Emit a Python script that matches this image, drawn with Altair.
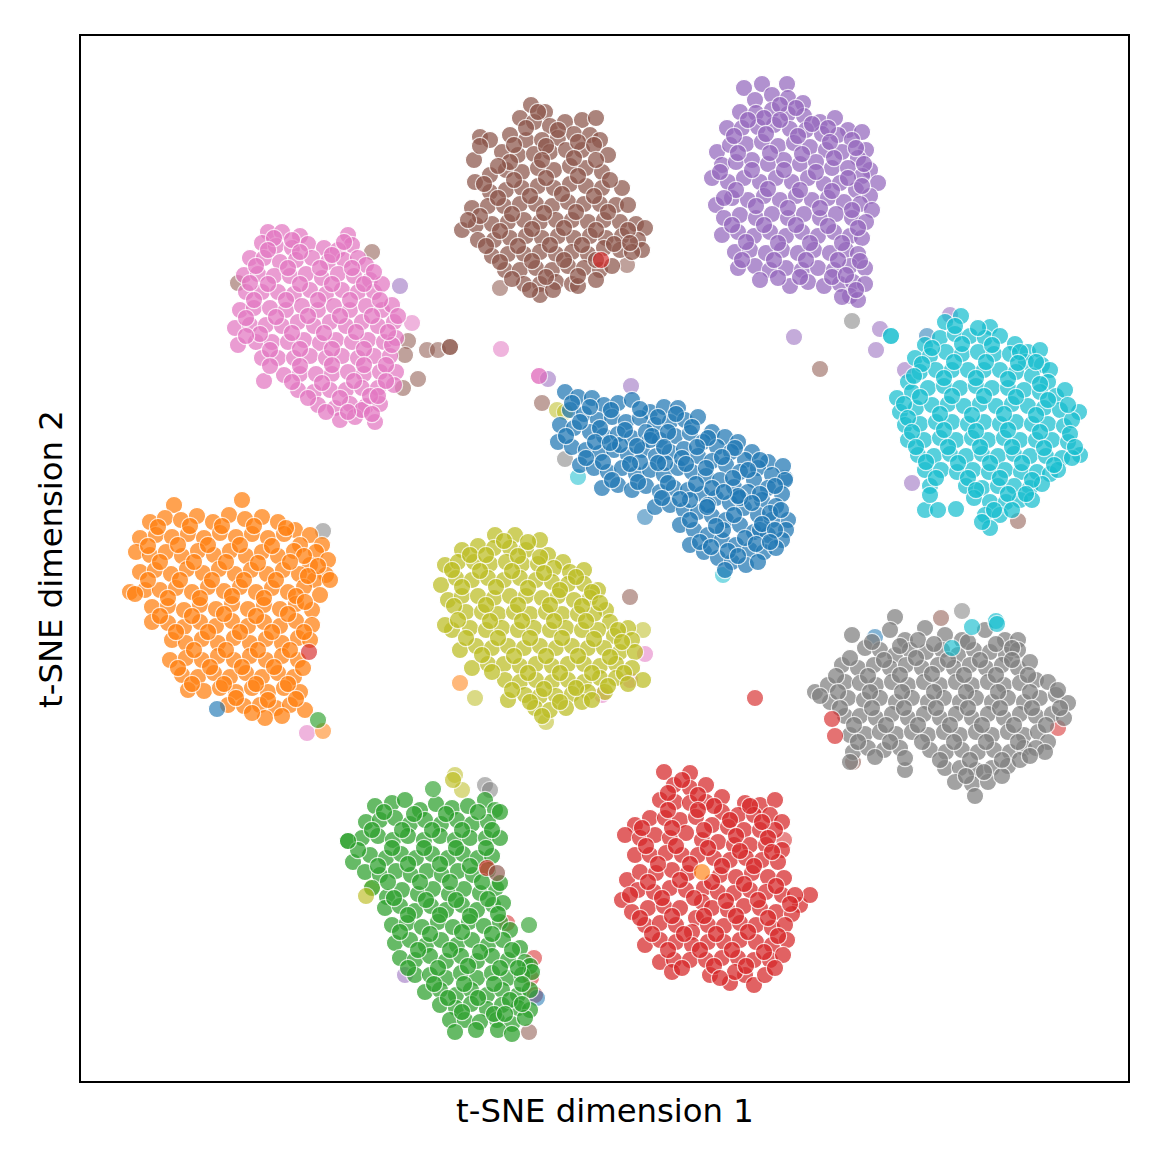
import altair as alt
import pandas as pd

blue = [(565,392),(578,397),(592,398),(604,405),(618,403),(632,400),(650,412),(664,407),(678,408),(570,410),(584,414),(598,420),(612,417),(626,422),(640,418),(655,425),(670,422),(685,420),(698,417),(712,432),(725,437),(738,442),(752,452),(768,462),(783,466),
(560,425),(574,428),(590,432),(604,436),(618,434),(632,438),(646,432),(660,440),(675,436),(690,433),(703,442),(717,447),(731,452),(745,460),(758,468),(772,475),(785,480),
(558,442),(572,447),(586,450),(600,453),(614,450),(628,455),(642,450),(656,456),(670,452),(684,449),(698,456),(712,461),(726,465),(740,472),(754,480),(768,488),(782,494),
(580,465),(594,468),(608,472),(622,468),(636,474),(650,470),(664,475),(678,468),(692,472),(706,476),(720,480),(734,487),(748,492),(762,500),(776,506),(788,520),
(602,488),(618,485),(632,490),(646,486),(660,492),(674,488),(688,490),(702,494),(716,498),(730,503),(744,508),(758,515),(772,520),(786,530),
(655,507),(670,505),(684,510),(698,512),(712,516),(726,520),(740,525),(754,532),(768,535),(782,540),
(680,525),(694,530),(708,535),(722,540),(736,545),(750,550),(764,552),(776,548),
(690,545),(704,552),(718,558),(732,562),(746,565),(758,562),(725,570),(665,463),(708,505),(740,498),(760,530),(640,462),(620,445),(690,500),(723,530),(650,440)]
blue_extra = [(572,403),(590,407),(611,410),(640,409),(658,417),(676,414),(692,427),(708,438),(735,448),(760,460),(580,422),(600,428),(625,430),(652,436),(668,432),(697,447),(722,457),(748,470),(775,486),
(566,436),(595,442),(610,443),(637,446),(664,447),(682,458),(706,468),(733,478),(760,494),(586,458),(603,462),(630,464),(658,463),(686,464),(712,488),(738,496),(770,513),(612,480),(638,482),(668,483),(696,484),(724,492),(752,503),(781,510),
(662,498),(680,499),(707,507),(734,515),(762,524),(690,520),(716,526),(745,538),(775,530),(700,542),(728,551),(756,544),(770,542),(711,547),(738,556)]

orange = [(174,505),(242,500),(150,522),(165,518),(181,520),(197,516),(213,522),(229,515),(245,519),(262,517),(278,522),(295,530),(310,535),(322,545),
(140,538),(156,535),(172,537),(188,534),(204,538),(220,533),(236,537),(252,534),(268,538),(284,534),(300,545),(316,552),(328,560),
(136,552),(150,555),(166,552),(182,556),(198,551),(214,555),(230,551),(246,556),(262,552),(278,556),(294,551),(310,565),(326,575),
(130,592),(140,572),(155,570),(171,574),(187,569),(203,573),(219,569),(235,574),(251,570),(267,574),(283,570),(299,574),(315,580),(330,580),
(145,590),(160,590),(176,588),(192,592),(208,587),(224,591),(240,587),(256,592),(272,588),(288,592),(304,587),(320,595),
(135,594),(152,607),(168,606),(184,610),(200,605),(216,609),(232,604),(248,609),(264,605),(280,609),(296,604),(312,610),
(152,622),(168,623),(184,627),(200,622),(216,626),(232,621),(248,626),(264,622),(280,626),(296,621),(312,625),
(172,640),(186,643),(202,639),(218,643),(234,638),(250,643),(266,639),(282,643),(298,638),(310,640),
(170,660),(186,658),(202,660),(218,656),(234,660),(250,656),(266,660),(282,656),(298,660),
(182,675),(198,677),(214,673),(230,677),(246,673),(262,677),(278,673),(294,677),(303,668),
(188,690),(204,691),(220,688),(236,692),(252,688),(268,692),(284,688),(300,692),
(228,705),(244,706),(260,705),(276,708),(290,705),(305,710),(265,718),(282,716)]
orange_extra = [(158,527),(190,526),(222,526),(254,526),(286,528),(148,546),(178,545),(208,545),(240,545),(272,546),(304,556),(160,562),(194,562),(226,562),(258,563),(290,562),(318,566),
(148,580),(180,580),(212,580),(244,580),(276,580),(308,576),(168,598),(200,598),(232,596),(264,598),(296,596),(160,616),(192,616),(224,614),(256,616),(288,614),(305,602),
(176,632),(208,632),(240,632),(272,632),(304,632),(194,650),(226,650),(258,650),(290,650),(178,668),(210,667),(242,667),(274,667),(192,684),(224,684),(256,684),(288,684),(236,698),(268,700),(296,699),(252,713)]

green = [(375,806),(392,803),(405,800),(420,810),(436,804),(452,808),(468,806),(485,800),(495,810),
(366,822),(380,820),(395,818),(410,824),(425,820),(441,824),(457,820),(472,824),(488,822),(500,812),
(348,841),(362,838),(378,836),(393,840),(408,836),(424,840),(440,836),(455,840),(470,838),(486,838),(500,838),
(353,862),(370,855),(386,858),(401,854),(416,858),(432,854),(448,858),(463,854),(478,858),(492,856),
(365,872),(380,875),(396,871),(411,875),(427,871),(442,875),(458,871),(473,875),(488,870),
(387,897),(372,888),(402,890),(418,894),(433,889),(449,894),(464,889),(480,893),(496,888),(500,883),
(385,908),(400,906),(415,911),(431,906),(446,910),(462,905),(477,910),(493,905),(503,903),
(392,925),(407,923),(422,927),(438,922),(453,927),(469,922),(484,926),(500,922),(510,930),
(395,943),(410,940),(426,945),(441,940),(457,945),(472,940),(488,945),(503,940),(520,948),
(400,958),(415,960),(430,956),(446,961),(461,956),(477,961),(492,956),(508,960),(525,962),(530,966),
(415,975),(430,975),(446,978),(461,973),(477,978),(492,973),(508,978),(522,975),(532,972),
(425,992),(440,990),(456,995),(471,990),(487,995),(502,990),(518,995),(530,990),
(440,1005),(456,1008),(471,1004),(487,1009),(502,1005),(518,1008),(530,1010),
(450,1020),(465,1020),(480,1022),(497,1020),(512,1024),(525,1018),(455,1032),(498,1030),(512,1034)]
green_extra = [(384,812),(414,814),(446,814),(478,812),(372,830),(402,830),(432,830),(462,830),(492,830),(358,850),(392,848),(424,848),(456,848),(486,848),(378,866),(408,864),(440,864),(470,866),
(388,882),(420,882),(450,882),(482,882),(394,898),(426,900),(456,900),(488,899),(408,915),(440,915),(470,916),(498,914),(400,932),(430,934),(462,932),(492,934),(418,950),(450,950),(480,952),(512,950),
(408,968),(438,968),(468,966),(500,968),(518,968),(434,984),(464,984),(494,984),(522,984),(448,998),(478,998),(510,1000),(462,1012),(494,1014),(522,1004),(476,1030),(505,1014)]

red = [(664,772),(690,773),(674,785),(690,788),(706,785),(722,797),(745,803),(760,805),(775,800),
(660,800),(675,802),(690,803),(706,802),(722,812),(738,815),(754,815),(770,815),(782,822),
(635,825),(650,818),(665,818),(680,820),(696,817),(712,825),(728,827),(744,830),(760,830),(775,830),
(625,835),(640,838),(655,835),(670,838),(686,833),(702,840),(718,842),(734,845),(750,845),(766,845),(782,850),
(635,855),(650,855),(666,853),(682,855),(698,855),(714,858),(730,860),(746,858),(762,860),(778,862),
(627,880),(640,872),(656,873),(672,870),(688,873),(704,888),(720,875),(736,877),(752,873),(768,877),(784,878),
(622,900),(638,890),(654,892),(670,888),(686,890),(702,902),(718,892),(734,893),(750,890),(766,892),(782,895),(800,905),(810,895),(795,895),
(632,912),(648,908),(664,906),(680,908),(696,918),(712,908),(728,910),(744,906),(760,908),(776,912),(792,914),
(645,925),(660,923),(676,925),(692,932),(708,925),(724,926),(740,923),(756,925),(772,928),(785,925),
(645,945),(660,940),(676,942),(692,945),(708,942),(724,942),(740,940),(756,942),(772,945),(787,940),
(660,962),(674,960),(690,960),(706,960),(722,958),(738,958),(754,960),(770,960),(783,955),
(672,972),(710,975),(730,983),(745,975),(754,985),(765,975),(775,968),(735,972)]
red_extra = [(682,780),(698,795),(668,793),(714,806),(750,806),(668,810),(698,810),(730,820),(762,822),(642,828),(672,828),(704,830),(736,836),(768,838),(646,846),(676,846),(708,848),(740,851),(772,852),
(658,864),(690,864),(722,866),(754,866),(648,882),(680,880),(712,882),(744,884),(776,886),(630,895),(662,898),(694,898),(726,901),(758,900),(790,904),(640,918),(672,916),(704,916),(736,916),(768,918),
(652,934),(684,934),(716,934),(748,932),(778,936),(668,950),(700,950),(732,950),(764,952),(682,968),(714,966),(746,966),(720,978)]

purple = [(744,88),(762,84),(787,84),(772,95),(788,98),(803,103),(755,100),
(740,112),(756,113),(772,110),(788,114),(804,116),(820,122),(835,118),(848,130),(862,132),
(727,128),(742,128),(758,127),(774,125),(790,129),(806,130),(822,134),(838,135),(852,140),(866,150),
(717,152),(730,145),(746,144),(762,142),(778,146),(794,143),(810,147),(826,150),(842,152),(858,158),(870,170),
(722,165),(736,162),(752,160),(768,164),(784,160),(800,164),(816,162),(832,168),(848,168),(862,176),(878,183),
(712,178),(728,182),(744,178),(760,182),(776,178),(792,182),(808,178),(824,184),(840,183),(856,190),(870,196),
(716,205),(732,198),(748,200),(764,196),(780,200),(796,196),(812,200),(828,198),(844,202),(860,204),(872,210),
(724,218),(740,215),(756,218),(772,214),(788,218),(804,214),(820,218),(836,214),(852,218),(866,222),
(722,235),(738,232),(754,236),(770,232),(786,236),(802,232),(818,236),(834,232),(850,236),(862,238),
(735,252),(750,250),(766,253),(782,250),(798,253),(814,250),(830,253),(846,250),(858,254),
(738,268),(755,266),(770,270),(786,268),(802,270),(818,268),(834,270),(850,266),(865,268),
(760,280),(790,286),(808,282),(824,286),(840,284),(853,282),(865,284),(850,296),(858,300),(842,297)]
purple_extra = [(780,105),(796,108),(764,118),(748,120),(780,120),(812,124),(828,128),(734,136),(766,134),(798,136),(830,142),(856,148),(738,153),(770,153),(802,154),(834,158),(864,164),
(720,172),(752,170),(784,170),(816,172),(848,178),(736,190),(768,189),(800,190),(832,191),(862,186),(724,198),(756,206),(788,208),(820,208),(852,210),(732,225),(764,225),(796,225),(828,226),(858,228),
(746,242),(778,243),(810,243),(842,243),(742,260),(774,260),(806,260),(838,260),(860,261),(778,278),(800,277),(832,277),(856,290),(846,275)]

brown = [(531,105),(545,112),(520,118),(534,122),(550,126),(565,122),(582,120),(596,118),
(480,137),(510,135),(526,140),(542,140),(558,138),(574,134),(590,135),(600,140),
(474,160),(502,152),(518,155),(534,154),(550,152),(566,150),(582,150),(608,155),
(475,182),(490,175),(506,170),(522,172),(538,168),(554,170),(570,166),(586,168),(602,172),
(490,192),(506,190),(522,188),(538,186),(554,188),(570,184),(586,186),(602,188),(622,188),
(472,208),(488,206),(504,206),(520,204),(536,204),(552,206),(568,202),(584,204),(600,204),(616,205),(628,205),
(462,230),(476,225),(492,224),(508,222),(524,220),(540,222),(556,220),(572,220),(588,222),(604,220),(620,222),(636,224),(645,228),
(478,240),(494,240),(510,238),(526,236),(542,238),(558,236),(574,238),(590,236),(606,238),(622,236),(638,240),(642,250),
(492,256),(508,254),(524,254),(540,252),(556,254),(572,252),(588,254),(604,248),(620,250),
(505,270),(520,270),(536,268),(552,270),(568,266),(584,268),(600,270),(612,266),(632,252),
(524,284),(540,284),(556,282),(572,284),(578,286),(540,295),(553,290)]
brown_extra = [(538,112),(558,130),(526,128),(490,140),(480,146),(514,145),(546,146),(578,142),(594,145),(510,162),(542,160),(574,158),(596,160),(498,166),(484,184),(514,180),(546,178),(578,176),(610,180),
(498,198),(530,196),(562,194),(594,196),(480,216),(512,214),(544,213),(576,212),(608,212),(468,220),(500,231),(532,229),(564,228),(596,230),(628,230),(486,246),(518,246),(550,245),(582,245),(614,244),
(500,262),(532,261),(564,260),(596,260),(630,243),(512,279),(546,277),(578,276),(596,280),(530,290)]

pink = [(268,232),(282,232),(300,236),(348,235),(352,245),(262,243),(276,246),(292,248),(308,244),(324,248),(338,250),
(250,258),(264,258),(280,262),(296,260),(312,258),(328,262),(344,260),(358,258),(366,265),
(244,275),(258,274),(274,276),(290,276),(306,274),(322,278),(338,274),(354,276),(370,280),
(246,292),(262,292),(278,292),(294,294),(310,290),(326,294),(342,290),(358,292),(374,292),(382,284),
(240,310),(254,308),(270,308),(286,310),(302,306),(318,310),(334,306),(350,310),(366,306),(382,310),(392,305),
(235,328),(250,325),(266,325),(282,326),(298,322),(314,326),(330,322),(346,326),(362,322),(378,326),(394,322),(398,316),
(238,345),(256,342),(272,342),(288,342),(304,340),(320,343),(336,340),(352,342),(368,340),(384,342),(396,338),
(262,358),(278,358),(294,358),(310,356),(326,358),(342,356),(358,358),(374,356),(390,356),(392,345),
(264,381),(284,375),(300,374),(316,374),(332,374),(348,372),(364,374),(380,372),(396,372),
(298,390),(314,392),(330,390),(346,390),(362,388),(378,388),(394,385),
(318,405),(335,408),(350,404),(366,406),(380,404),(340,420),(355,417),(375,422),(362,410)]
pink_extra = [(274,238),(292,240),(344,242),(268,250),(300,252),(332,255),(256,266),(288,268),(320,268),(352,268),(374,272),(250,283),(268,284),(300,284),(332,284),(364,284),(254,300),(286,300),(318,300),(350,300),(380,300),
(246,318),(276,317),(308,316),(340,316),(372,316),(260,334),(292,333),(324,333),(356,332),(388,332),(246,336),(270,350),(300,349),(332,349),(364,349),(270,366),(300,366),(332,365),(364,365),(386,365),
(292,382),(322,383),(354,381),(386,381),(308,398),(340,398),(370,396),(326,412),(348,412),(372,414),(378,396)]

gray = [(852,635),(895,617),(890,630),(905,640),(925,628),(945,635),(962,640),(985,630),(1005,640),(1018,640),
(865,648),(880,650),(895,655),(910,650),(926,652),(942,650),(958,655),(974,650),(990,652),(1006,655),(1018,650),
(842,665),(858,668),(874,665),(890,668),(906,665),(922,668),(938,665),(954,668),(970,665),(986,668),(1002,665),(1018,668),(1030,662),
(815,692),(828,685),(845,682),(860,683),(876,685),(892,682),(908,685),(924,682),(940,685),(956,682),(972,685),(988,682),(1004,685),(1020,683),(1036,680),(1048,682),
(830,702),(848,698),(864,700),(880,698),(896,702),(912,698),(928,702),(944,698),(960,702),(976,698),(992,702),(1008,698),(1024,702),(1040,698),(1056,695),(1068,703),
(845,716),(860,716),(876,718),(892,714),(908,718),(924,714),(940,718),(956,714),(972,718),(988,714),(1004,718),(1020,714),(1036,716),(1052,714),(1064,718),
(850,735),(865,734),(880,732),(896,734),(912,732),(928,735),(944,732),(960,735),(976,732),(992,735),(1008,732),(1024,735),(1038,732),(1048,742),
(853,752),(868,748),(884,750),(900,748),(930,750),(946,752),(962,750),(978,752),(994,750),(1010,752),(1024,748),(1036,748),(850,762),(1045,752),
(905,770),(945,768),(960,768),(976,770),(992,768),(1008,766),(1020,760),(955,782),(972,784),(988,782),(975,796),(1002,776)]
gray_extra = [(872,642),(900,646),(918,640),(934,644),(968,642),(996,644),(1012,648),(850,658),(884,660),(916,658),(948,660),(980,660),(1012,660),(836,676),(868,676),(900,675),(932,674),(964,675),(996,675),(1028,675),
(820,696),(838,692),(870,692),(902,692),(934,692),(966,692),(998,692),(1030,692),(1058,690),(840,708),(872,708),(904,708),(936,708),(968,708),(1000,708),(1032,708),(1060,708),(854,725),(886,725),(918,725),(950,725),(982,725),(1014,725),(1046,725),
(858,742),(890,742),(922,742),(954,742),(986,742),(1018,742),(875,757),(905,758),(940,760),(970,760),(1002,760),(966,776),(984,772),(1030,756)]

olive = [(495,535),(515,535),(540,540),(462,550),(478,546),(494,548),(510,548),(526,550),(548,555),(563,562),
(445,565),(458,562),(474,562),(490,564),(506,562),(522,564),(538,564),(554,568),(570,572),(584,570),
(441,585),(456,578),(472,580),(488,578),(504,580),(520,578),(536,580),(552,582),(568,584),(584,584),(598,590),
(448,600),(462,596),(478,596),(494,598),(510,596),(526,596),(542,598),(558,596),(574,600),(590,598),(606,610),
(452,630),(466,612),(482,612),(498,614),(514,612),(530,614),(546,612),(562,614),(578,614),(594,614),(610,622),(628,628),
(445,625),(470,628),(486,630),(502,628),(518,630),(534,628),(550,630),(566,628),(582,630),(598,630),(614,636),(632,640),
(460,650),(476,646),(492,648),(508,646),(524,648),(540,646),(556,648),(572,646),(588,648),(604,648),(620,652),(635,652),
(472,668),(488,664),(504,664),(520,666),(536,664),(552,666),(568,664),(584,664),(600,666),(616,664),(632,668),(643,680),
(505,680),(520,682),(536,680),(552,682),(568,680),(584,682),(600,678),(616,678),
(525,695),(540,696),(556,696),(572,694),(588,692),(605,692),(535,708),(550,710),(566,708),(582,702),(508,700)]
olive_extra = [(504,541),(528,542),(470,555),(486,555),(518,556),(540,557),(452,570),(480,571),(512,571),(544,573),(576,577),(462,587),(496,587),(528,588),(560,590),(592,592),(454,606),(486,605),(518,605),(550,605),(582,606),(600,603),
(458,620),(490,621),(522,621),(554,621),(586,621),(618,630),(466,638),(498,638),(530,638),(562,638),(594,639),(622,642),(482,655),(514,656),(546,656),(578,656),(610,657),(492,672),(528,673),(560,673),(592,673),(624,673),
(512,690),(544,689),(576,688),(608,686),(628,684),(530,702),(560,702),(592,700),(542,716)]

cyan = [(961,316),(945,322),(990,327),(925,345),(940,338),(955,334),(970,336),(985,338),(1000,336),(1015,344),(1028,352),(1040,350),
(915,358),(930,356),(946,352),(962,354),(978,352),(994,354),(1010,354),(1026,362),(1042,365),(1050,370),
(908,382),(920,372),(936,370),(952,370),(968,370),(984,370),(1000,370),(1016,372),(1032,376),(1048,382),
(897,398),(912,392),(928,388),(944,386),(960,388),(976,386),(992,388),(1008,388),(1024,390),(1040,392),(1056,396),(1065,390),
(900,412),(916,408),(932,405),(948,404),(964,406),(980,404),(996,406),(1012,404),(1028,406),(1044,408),(1060,410),(1079,412),
(905,425),(920,424),(936,422),(952,422),(968,424),(984,422),(1000,424),(1016,422),(1032,424),(1048,424),(1064,426),(1072,420),
(908,440),(924,440),(940,438),(956,440),(972,438),(988,440),(1004,438),(1020,440),(1036,440),(1052,440),(1068,442),(1080,455),
(918,455),(934,456),(950,454),(966,456),(982,454),(998,456),(1014,454),(1030,456),(1046,456),(1062,458),(1072,458),
(925,470),(941,470),(957,472),(973,470),(989,472),(1005,470),(1021,472),(1037,472),(1050,474),(1058,470),
(930,486),(966,486),(982,488),(998,486),(1014,486),(1030,488),(1042,484),
(925,510),(938,510),(956,509),(974,498),(990,502),(1006,502),(1020,500),(1032,500),(985,515),(1000,515),(990,528),(982,522)]
cyan_extra = [(955,326),(978,328),(932,348),(962,344),(992,345),(1020,352),(922,364),(954,362),(986,362),(1018,363),(1036,362),(914,376),(944,378),(976,378),(1008,379),(1040,384),(904,404),(920,397),(952,396),(984,396),(1016,397),(1048,400),
(908,418),(940,414),(972,415),(1004,414),(1036,415),(1068,405),(912,432),(944,430),(976,431),(1008,430),(1040,432),(1070,434),(916,447),(948,447),(980,447),(1012,447),(1044,448),(1075,447),
(926,462),(958,463),(990,463),(1022,463),(1054,465),(936,478),(968,478),(1000,478),(1032,480),(976,490),(1008,494),(1026,494),(994,510),(930,495),(1012,510)]

strays_under = [(5,372,252),(5,238,283),(4,400,286),(6,412,323),(5,408,341),(5,405,355),(5,427,350),(5,438,350),(5,450,347),(6,501,349),(5,418,379),(5,403,388),
(4,794,337),(7,852,321),(4,880,329),(9,891,336),(4,876,350),(5,820,369),(0,927,336),(4,905,370),(4,950,315),(4,912,483),(5,1018,521),
(6,539,376),(4,548,379),(5,542,403),(8,557,410),(8,565,412),(4,631,386),(7,565,459),(0,645,517),(9,723,575),(9,578,477),(0,785,478),
(5,630,597),(1,460,683),(8,475,698),(6,645,654),(6,630,680),(6,602,695),(8,643,630),(8,546,722),
(7,323,531),(6,307,733),(1,323,731),(5,500,288),(5,627,265),(3,784,840),
(0,875,637),(5,941,618),(7,962,611),(3,1058,728),(5,853,762),
(8,455,775),(8,462,790),(7,485,785),(7,490,790),(8,372,887),(3,507,923),(3,534,958),(3,531,978),(3,535,995),(0,537,998),(5,529,1032),(4,405,975)]

strays_over = [(6,539,376),(3,755,698),(1,702,872),(3,601,260),(3,309,652),(0,217,709),(2,318,720),
(9,972,627),(9,952,648),(9,996,621),(9,997,624),(3,832,719),(3,835,736),
(8,453,780),(2,433,789),(2,348,841),(8,366,896),(2,529,925),(3,487,868),(5,497,873),(5,450,347),(9,891,336)]

colors = ["#1f77b4","#ff7f0e","#2ca02c","#d62728","#9467bd","#8c564b","#e377c2","#7f7f7f","#bcbd22","#17becf"]
clusters = [purple+purple_extra, brown+brown_extra, pink+pink_extra, gray+gray_extra, olive+olive_extra,
            cyan+cyan_extra, blue+blue_extra, orange+orange_extra, green+green_extra, red+red_extra]
cluster_ids = [4, 5, 6, 7, 8, 9, 0, 1, 2, 3]

rows = [dict(x=x, y=y, c=colors[c], op=0.55) for c, x, y in strays_under]
for cid, pts in zip(cluster_ids, clusters):
    rows += [dict(x=x, y=y, c=colors[cid], op=0.72) for x, y in pts]
rows += [dict(x=x, y=y, c=colors[c], op=0.65) for c, x, y in strays_over]
rows = [dict(r, order=i) for i, r in enumerate(rows)]
df = pd.DataFrame(rows)

chart = alt.Chart(df).mark_circle(size=300, stroke="white", strokeWidth=1.2).encode(
    x=alt.X("x:Q", scale=alt.Scale(domain=[80, 1129], nice=False, zero=False),
            axis=alt.Axis(title="t-SNE dimension 1", ticks=False, labels=False, grid=False, domain=False,
                          titleFont="DejaVu Sans", titleFontSize=32.3, titleFontWeight="normal", titleColor="black", titlePadding=13)),
    y=alt.Y("y:Q", scale=alt.Scale(domain=[1082, 35], nice=False, zero=False),
            axis=alt.Axis(title="t-SNE dimension 2", ticks=False, labels=False, grid=False, domain=False,
                          titleFont="DejaVu Sans", titleFontSize=32.3, titleFontWeight="normal", titleColor="black", titlePadding=12)),
    fill=alt.Fill("c:N", scale=None),
    opacity=alt.Opacity("op:Q", scale=None),
    order=alt.Order("order:Q"),
).properties(
    width=1049, height=1047, autosize="none",
    padding={"left": 72, "top": 27, "right": 27, "bottom": 74},
).configure_view(stroke="black", strokeWidth=2)

chart.save("out.html", embed_options={"renderer": "svg", "actions": False})
